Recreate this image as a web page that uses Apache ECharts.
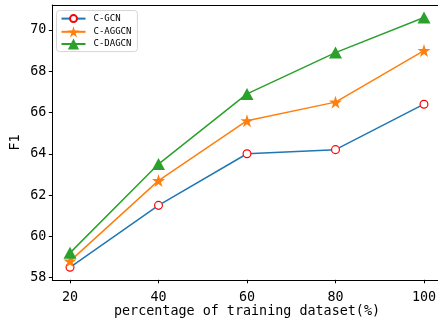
<!DOCTYPE html>
<html>
<head>
<meta charset="utf-8">
<script src="https://cdn.jsdelivr.net/npm/echarts@6/dist/echarts.min.js"></script>
<style>html,body{margin:0;padding:0;background:#fff;overflow:hidden;}#c{width:438px;height:324px;}</style>
</head>
<body>
<div id="c"></div>
<script>
const percentages = [20, 40, 60, 80, 100];
const cGCN = [58.5, 61.5, 64.0, 64.2, 66.4];
const cAGGCN = [58.8, 62.7, 65.6, 66.5, 69.0];
const cDAGCN = [59.2, 63.5, 66.9, 68.9, 70.6];
const xTicks = [20, 40, 60, 80, 100];
const yTicks = [58, 60, 62, 64, 66, 68, 70];

const FONT = 'DejaVu Sans Mono';
const pair = (arr) => percentages.map((p, i) => [p, arr[i]]);

const chart = echarts.init(document.getElementById('c'), null, {renderer: 'canvas'});
chart.setOption({
  backgroundColor: '#fff',
  animation: false,
  grid: {
    left: 52.3, top: 5, width: 389.4, height: 274.8,
    outerBoundsMode: 'none', containLabel: false,
    show: false
  },
  graphic: [{
    type: 'rect', left: 436, top: 6, z: 100,
    shape: {width: 4, height: 273},
    style: {fill: '#fff'}
  }],
  legend: {
    left: 56.5, top: 10.5, orient: 'vertical',
    itemWidth: 24, itemHeight: 14, itemGap: 1,
    padding: [1.5, 6, 2, 4],
    backgroundColor: 'rgba(255,255,255,0.8)',
    borderColor: '#d6d6d6', borderWidth: 1, borderRadius: 3,
    textStyle: {fontFamily: FONT, fontSize: 9, color: '#000', padding: [0, 0, 0, 3]},
    data: ['C-GCN', 'C-AGGCN', 'C-DAGCN']
  },
  xAxis: [{
    type: 'value', min: 16, max: 104,
    name: 'percentage of training dataset(%)', nameLocation: 'middle', nameGap: 25.5,
    nameMoveOverlap: false,
    nameTextStyle: {fontFamily: FONT, fontSize: 13.4, color: '#000'},
    axisLine: {lineStyle: {color: '#000', width: 1}},
    axisTick: {show: true, length: 3.5, lineStyle: {color: '#000'}, customValues: xTicks},
    axisLabel: {fontFamily: FONT, fontSize: 13.4, color: '#000', margin: 11, customValues: xTicks},
    splitLine: {show: false}
  }, {
    type: 'value', position: 'top', min: 16, max: 104,
    axisLine: {show: true, lineStyle: {color: '#000', width: 1}},
    axisTick: {show: false}, axisLabel: {show: false}, splitLine: {show: false}
  }],
  yAxis: {
    type: 'value', min: 57.895, max: 71.205,
    name: 'F1', nameLocation: 'middle', nameGap: 30, nameRotate: 90,
    nameMoveOverlap: false,
    nameTextStyle: {fontFamily: FONT, fontSize: 13.4, color: '#000'},
    axisLine: {show: true, lineStyle: {color: '#000', width: 1}},
    axisTick: {show: true, length: 3.5, lineStyle: {color: '#000'}, customValues: yTicks},
    axisLabel: {fontFamily: FONT, fontSize: 13.4, color: '#000', margin: 6, customValues: yTicks},
    splitLine: {show: false}
  },
  series: [
    {
      name: 'C-GCN', type: 'line', data: pair(cGCN),
      symbol: 'path://M-1.6,-1.6 M1.6,1.6 M0,-1 A1,1 0 1,1 0,1 A1,1 0 1,1 0,-1 Z',
      symbolSize: 12.5,
      lineStyle: {color: '#1f77b4', width: 1.5},
      itemStyle: {color: '#fff', borderColor: '#ff0000', borderWidth: 1.2},
      z: 3
    },
    {
      name: 'C-AGGCN', type: 'line', data: pair(cAGGCN),
      symbol: 'path://M0,-1 L0.2245,-0.309 L0.951,-0.309 L0.363,0.118 L0.588,0.809 L0,0.382 L-0.588,0.809 L-0.363,0.118 L-0.951,-0.309 L-0.2245,-0.309 Z',
      symbolSize: 13,
      lineStyle: {color: '#ff7f0e', width: 1.5},
      itemStyle: {color: '#ff7f0e', borderColor: '#ff7f0e', borderWidth: 0},
      z: 4
    },
    {
      name: 'C-DAGCN', type: 'line', data: pair(cDAGCN),
      symbol: 'triangle', symbolSize: [13, 12],
      lineStyle: {color: '#2ca02c', width: 1.5},
      itemStyle: {color: '#2ca02c', borderColor: '#2ca02c', borderWidth: 0},
      z: 5
    }
  ]
});
</script>
</body>
</html>
